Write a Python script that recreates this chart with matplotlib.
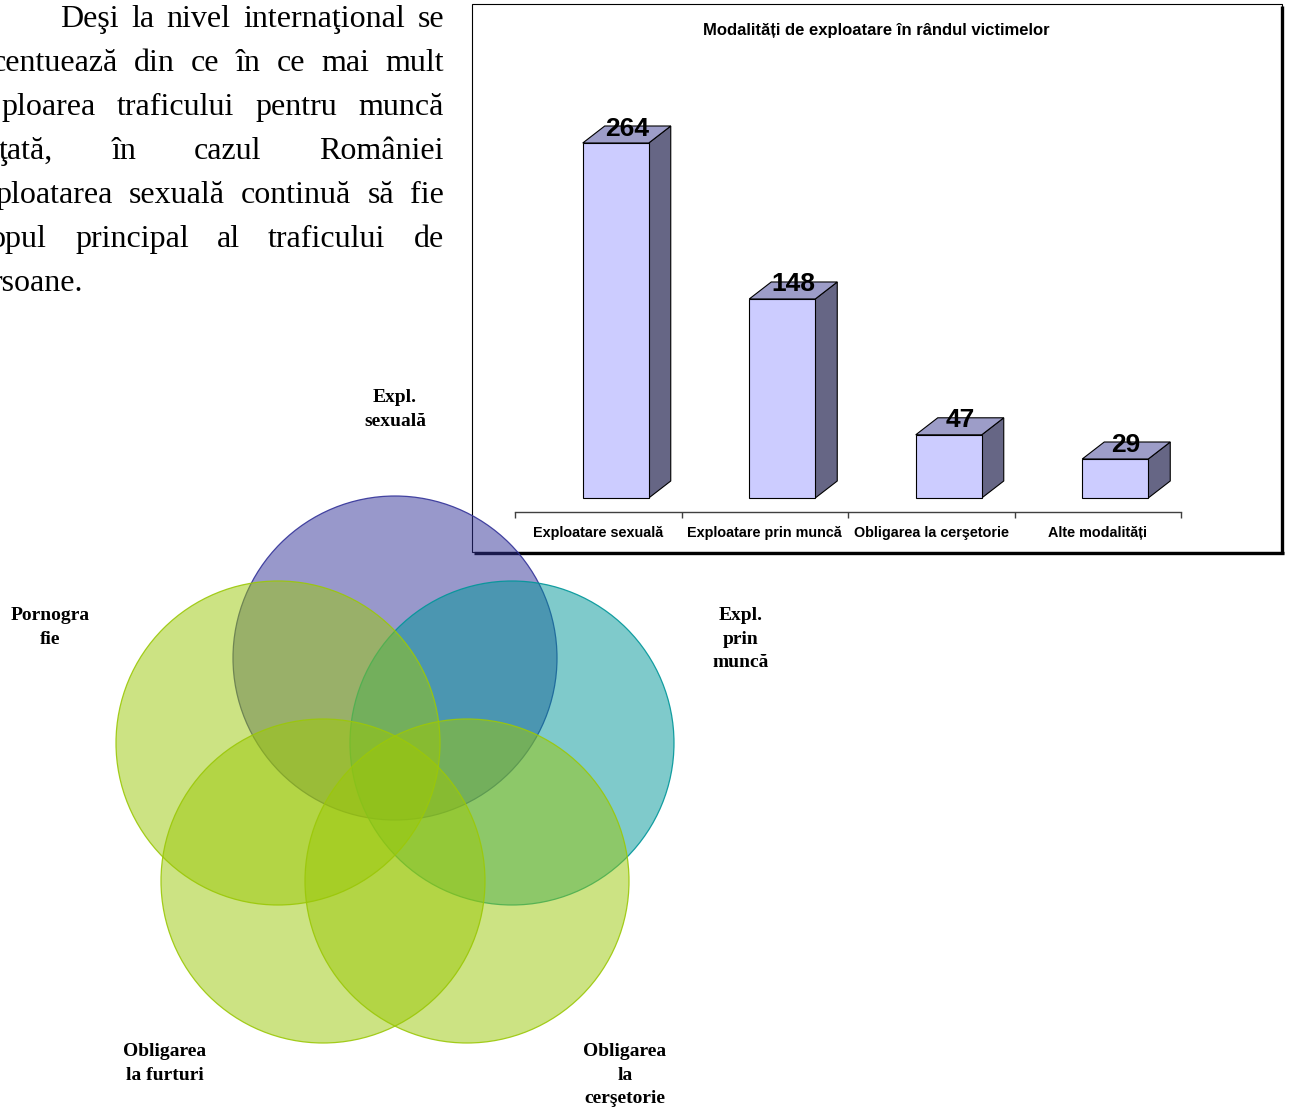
import matplotlib
matplotlib.use("Agg")
import matplotlib.pyplot as plt
from matplotlib.patches import Rectangle, Polygon, Circle

# ---------------- data ----------------
categories = ["Exploatare sexuală", "Exploatare prin muncă",
              "Obligarea la cerşetorie", "Alte modalități"]
values = [264, 148, 47, 29]
chart_title = "Modalități de exploatare în rândul victimelor"

paragraph_lines = [
    "Deşi la nivel internaţional se",
    "centuează din ce în ce mai mult",
    "ploarea traficului pentru muncă",
    "ţată, în cazul României",
    "ploatarea sexuală continuă să fie",
    "opul principal al traficului de",
    "rsoane.",
]

venn_labels = ["Expl.\nsexuală", "Pornogra\nfie", "Expl.\nprin\nmuncă",
               "Obligarea\nla furturi", "Obligarea\nla\ncerşetorie"]

# ---------------- layout / style ----------------
W, H = 1290, 1107
fig = plt.figure(figsize=(W / 100, H / 100), dpi=100)
fig.patch.set_facecolor("white")

bg = fig.add_axes([0, 0, 1, 1])
bg.set_xlim(0, W)
bg.set_ylim(H, 0)
bg.axis("off")

renderer = fig.canvas.get_renderer()

# ---- justified paragraph (left, cut by the page edge) ----
serif = ["Liberation Serif", "DejaVu Serif"]
para_size = 23
line_left = [60, -8, 1, -1, -5, -10, -9]
line_right = 444
baseline0, line_step = 27, 44
for i, line in enumerate(paragraph_lines):
    words = line.split()
    y = baseline0 + i * line_step
    objs = [bg.text(0, y, w, fontsize=para_size, family=serif,
                    va="baseline", ha="left", color="black") for w in words]
    widths = [o.get_window_extent(renderer).width for o in objs]
    last = i == len(paragraph_lines) - 1
    if len(words) > 1 and not last:
        gap = (line_right - line_left[i] - sum(widths)) / (len(words) - 1)
    else:
        gap = 6
    x = line_left[i]
    for o, wd in zip(objs, widths):
        o.set_x(x)
        x += wd + gap

# ---- chart box ----
bg.add_patch(Rectangle((472, 4), 810, 548, facecolor="white",
                       edgecolor="black", lw=0.8, zorder=1))
bg.plot([1282, 1282], [6, 554], color="black", lw=2.4, zorder=2,
        solid_capstyle="butt")
bg.plot([474, 1283.5], [553, 553], color="black", lw=2.4, zorder=2,
        solid_capstyle="butt")

sans = ["Liberation Sans", "DejaVu Sans"]
fig.text(876 / W, 1 - 30 / H, chart_title, ha="center", va="center",
         fontsize=12, fontweight="bold", family=sans)

# ---- bar axes ----
px_per_unit = 355 / 264.0
ax_left, ax_right, ax_bottom_px, ax_top_px, zero_px = 515, 1181, 512, 100, 498
ax = fig.add_axes([ax_left / W, 1 - ax_bottom_px / H,
                   (ax_right - ax_left) / W, (ax_bottom_px - ax_top_px) / H])
ax.set_xlim(-0.5, len(categories) - 0.5)
ax.set_ylim(-(ax_bottom_px - zero_px) / px_per_unit,
            (zero_px - ax_top_px) / px_per_unit)
ax.patch.set_visible(False)
for s in ["top", "right", "left"]:
    ax.spines[s].set_visible(False)
ax.spines["bottom"].set_color("#404040")
ax.spines["bottom"].set_linewidth(1.0)
ax.set_yticks([])
ax.set_xticks([i - 0.5 for i in range(len(categories) + 1)])
ax.set_xticklabels([])
ax.tick_params(axis="x", direction="out", length=4.5, width=1.0,
               color="#404040")

px_x = (ax_right - ax_left) / len(categories)
shift = 17.5 / px_x
bw = 66 / px_x
ddx = 22 / px_x
ddy = 17 / px_per_unit
front_c, top_c, side_c = "#CCCCFF", "#9D9DC8", "#666685"
for i, v in enumerate(values):
    xl = i + shift - bw / 2
    xr = xl + bw
    ax.add_patch(Polygon([(xr, 0), (xr + ddx, ddy), (xr + ddx, v + ddy), (xr, v)],
                         closed=True, facecolor=side_c, edgecolor="black", lw=0.8))
    ax.add_patch(Polygon([(xl, v), (xl + ddx, v + ddy), (xr + ddx, v + ddy), (xr, v)],
                         closed=True, facecolor=top_c, edgecolor="black", lw=0.8))
    ax.add_patch(Rectangle((xl, 0), bw, v, facecolor=front_c,
                           edgecolor="black", lw=0.8))
    ax.text(i + shift + ddx / 2, v + ddy, str(v), ha="center",
            va="center_baseline", fontsize=19, fontweight="bold", family=sans)
    ax.annotate(categories[i], xy=(i, 0), xycoords=("data", "axes fraction"),
                xytext=(0, -21), textcoords="offset pixels", ha="center",
                va="center", fontsize=10.4, fontweight="bold", family=sans)

# ---- Venn diagram ----
R = 162
circles = [  # (center, face, edge) in drawing order
    ((395, 658), "#333399", "#333399"),
    ((512, 743), "#009699", "#009699"),
    ((278, 743), "#9BC808", "#9BC808"),
    ((323, 881), "#9BC808", "#9BC808"),
    ((467, 881), "#9BC808", "#9BC808"),
]
for (c, fc, ec) in circles:
    bg.add_patch(Circle(c, R, facecolor=fc, alpha=0.5, edgecolor="none", zorder=5))
    bg.add_patch(Circle(c, R, facecolor="none", edgecolor=ec, lw=0.9,
                        alpha=0.9, zorder=5))

label_pos = [(395, 396), (50, 614), (741, 614), (165, 1050), (625, 1050)]
for lab, (x, y) in zip(venn_labels, label_pos):
    for j, part in enumerate(lab.split("\n")):
        bg.text(x, y + j * 23.3, part, ha="center", va="center_baseline",
                fontsize=14, fontweight="bold", family=serif, zorder=6)

fig.savefig("out.png", dpi=100, facecolor="white")
